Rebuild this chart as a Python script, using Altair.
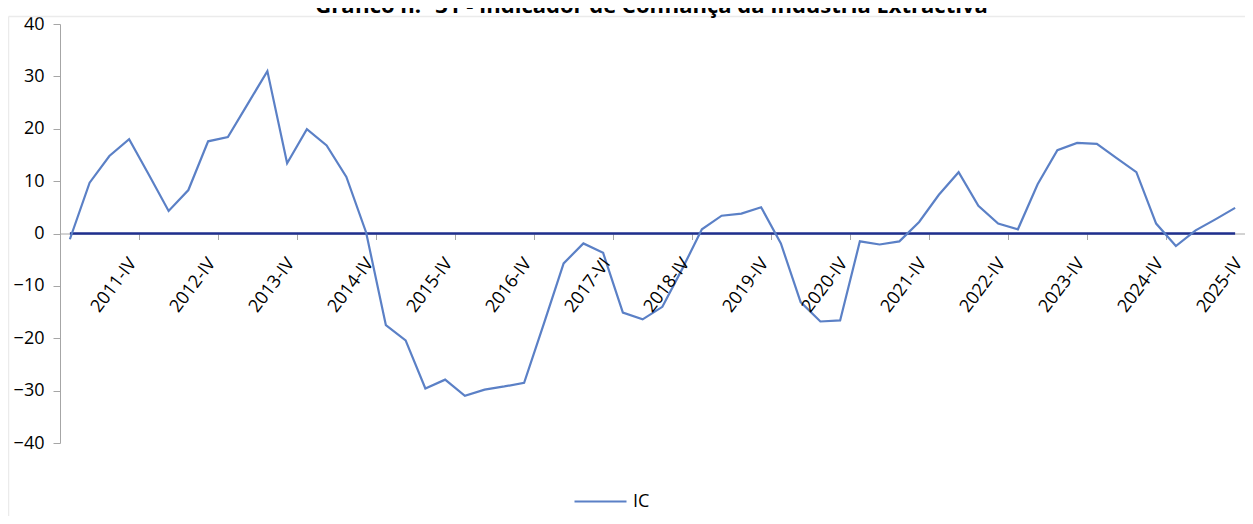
import altair as alt
import pandas as pd

# ---- data ----
years = list(range(2011, 2026))
quarters = ["I", "II", "III", "IV"]
categories = [f"{y}-{q}" for y in years for q in quarters]
categories[categories.index("2017-IV")] = "2017-VI"   # label as printed in the source

ic_values = [-1.1, 9.7, 14.8, 18.0, 11.2, 4.3, 8.3, 17.6, 18.4, 24.7,
             31.0, 13.4, 19.9, 16.8, 10.8, 0.2, -17.5, -20.4, -29.6, -27.9,
             -31.0, -29.8, -29.2, -28.5, -17.2, -5.7, -1.9, -3.7, -15.1, -16.4,
             -14.0, -6.8, 0.8, 3.4, 3.8, 5.0, -1.9, -13.1, -16.8, -16.6,
             -1.5, -2.1, -1.5, 2.2, 7.4, 11.7, 5.3, 1.9, 0.8, 9.4,
             15.9, 17.3, 17.1, 14.4, 11.7, 1.9, -2.4, 0.6, 2.7, 4.9]
series_name = "IC"
title_text = "Gráfico n.º 31 - Indicador de Confiança da Indústria Extractiva"
y_ticks = [-40, -30, -20, -10, 0, 10, 20, 30, 40]

df = pd.DataFrame({"i": list(range(len(categories))), "cat": categories,
                   "v": ic_values, "serie": series_name})
labels_df = df[df["i"] % 4 == 3].copy()

FONT = "Open Sans"
BLUE = "#5B80C6"
NAVY = "#1F2F8E"
GREY = "#A6A6A6"

n = len(categories)
xscale = alt.Scale(domain=[-0.5, n - 0.5], nice=False, zero=False)
yscale = alt.Scale(domain=[-40, 40], nice=False)

W, H = 1185, 419
y0 = H / 2  # pixel of value 0

base = alt.Chart(df)

line = base.mark_line(strokeWidth=2.2).encode(
    x=alt.X("i:Q", scale=xscale,
            axis=alt.Axis(values=[k - 0.5 for k in range(n + 1)], labels=False,
                          title=None, grid=False, tickSize=6, tickColor=GREY,
                          domainColor=GREY, offset=-y0)),
    y=alt.Y("v:Q", scale=yscale,
            axis=alt.Axis(values=y_ticks, title=None, grid=False, tickSize=7,
                          tickColor=GREY, domainColor=GREY, labelFontSize=18,
                          labelFont=FONT, labelColor="black", labelPadding=9)),
    color=alt.Color("serie:N", scale=alt.Scale(domain=[series_name], range=[BLUE]),
                    legend=alt.Legend(orient="none", legendX=513, legendY=450,
                                      title=None, symbolType="stroke",
                                      symbolSize=2704, symbolStrokeWidth=2.2,
                                      labelFontSize=18, labelFont=FONT,
                                      labelColor="black", padding=0,
                                      labelOffset=5)),
)

zero_line = alt.Chart(pd.DataFrame({"a": [0], "b": [n - 1]})).mark_rule(
    color=NAVY, strokeWidth=2.6).encode(
    x=alt.X("a:Q", scale=xscale), x2="b:Q", y=alt.Y(datum=0))

xlabels = alt.Chart(labels_df).mark_text(
    angle=307, align="right", baseline="middle", dx=0, dy=5,
    fontSize=18, font=FONT, color="black").encode(
    x=alt.X("i:Q", scale=xscale), y=alt.value(y0 + 24), text="cat:N")

title = alt.Chart(pd.DataFrame({"t": [title_text]})).mark_text(
    align="center", baseline="alphabetic", fontSize=22, font=FONT,
    fontWeight="bold", color="black").encode(
    x=alt.value(W / 2 - 1), y=alt.value(-11), text="t:N")

border_left = alt.Chart(pd.DataFrame({"k": [0]})).mark_rule(
    color="#EBEBEB", strokeWidth=1.5).encode(
    x=alt.value(-51.5), y=alt.value(-7.5), y2=alt.value(H + 73))
border_top = alt.Chart(pd.DataFrame({"k": [0]})).mark_rule(
    color="#EBEBEB", strokeWidth=1.5).encode(
    x=alt.value(-51.5), x2=alt.value(W), y=alt.value(-7.5))

chart = alt.layer(border_left, border_top, zero_line, line, xlabels, title).properties(
    width=W, height=H,
    autosize=alt.AutoSizeParams(type="none"),
    padding={"left": 52, "top": 16, "right": 0, "bottom": 73},
).configure_view(stroke=None)

chart.save("out.html", embed_options={"renderer": "svg", "actions": False})
